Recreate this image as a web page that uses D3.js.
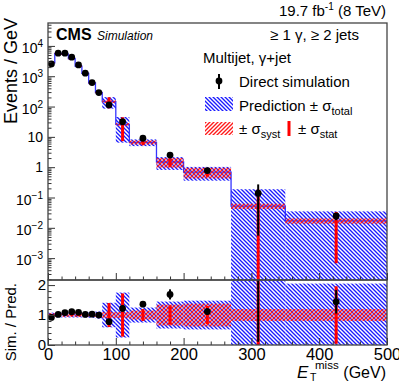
<!DOCTYPE html>
<html>
<head>
<meta charset="utf-8">
<script src="https://cdn.jsdelivr.net/npm/d3@7"></script>
<style>
body { margin: 0; background: #fff; }
svg { display: block; font-family: "Liberation Sans", Arial, Helvetica, sans-serif; }
</style>
</head>
<body>
<div id="chart"></div>
<script>
// MET bins (GeV)
var binEdges = [0, 10, 20, 30, 40, 50, 60, 70, 80, 100, 120, 160, 200, 270, 350, 500];
// prediction (events / GeV)
var predValues = [2770, 5630, 5310, 3820, 2165, 1235, 598, 288, 145, 25.8, 6.6, 1.48, 0.69, 0.052, 0.017];
// direct simulation (events / GeV)
var simValues = [2550, 5740, 5740, 4240, 2360, 1260, 616, 288, 113, 31.5, 9.0, 2.5, 0.77, 0.138, 0.0245];
var simErrRel = [0.01, 0.01, 0.01, 0.01, 0.01, 0.01, 0.02, 0.03, 0.05, 0.08, 0.06, 0.1, 0.1, 0.96, 0.27];
// relative uncertainties on the prediction
var statRel = [0.03, 0.03, 0.03, 0.03, 0.04, 0.04, 0.06, 0.1, 0.4, 0.72, 0.2, 0.32, 0.3, 2.5, 0.96];
var systRel = [0.06, 0.06, 0.06, 0.06, 0.06, 0.06, 0.06, 0.06, 0.1, 0.1, 0.15, 0.35, 0.38, 0.2, 0.2];
var totalRel = [0.08, 0.08, 0.08, 0.08, 0.08, 0.08, 0.09, 0.12, 0.41, 0.75, 0.25, 0.45, 0.48, 2.6, 1.05];

var xTicks = [0, 100, 200, 300, 400, 500];
var yTickExp = [-3, -2, -1, 0, 1, 2, 3, 4];
var ratioTicks = [0, 1, 2];

var svgWidth = 399;
var svgHeight = 383;
var left = 48, right = 387;
var mainTop = 23, mainBottom = 280, ratioBottom = 345;
var yMin = 1.9e-4, yMax = 5.7e4;

var svg = d3.select("#chart")
    .append("svg")
    .attr("width", svgWidth)
    .attr("height", svgHeight);

var x = d3.scaleLinear().domain([0, 500]).range([left, right]);
var yMain = d3.scaleLog().domain([yMin, yMax]).range([mainBottom, mainTop]);
var yRatio = d3.scaleLinear().domain([0, 2.17]).range([ratioBottom, mainBottom]);

function yLog(v) {
    return v > yMin ? yMain(v) : mainBottom + 10;
}

var bins = predValues.map(function (p, i) {
    return {
        lo: binEdges[i], hi: binEdges[i + 1], mid: (binEdges[i] + binEdges[i + 1]) / 2,
        pred: p, sim: simValues[i], simErr: simErrRel[i],
        stat: statRel[i], syst: systRel[i], tot: totalRel[i],
        ratio: simValues[i] / p
    };
});

// hatch patterns
var defs = svg.append("defs");
function hatch(id, color, d) {
    defs.append("pattern")
        .attr("id", id)
        .attr("patternUnits", "userSpaceOnUse")
        .attr("width", 4)
        .attr("height", 4)
        .append("path")
        .attr("d", d)
        .attr("stroke", color)
        .attr("stroke-width", 1.35)
        .attr("fill", "none");
}
hatch("hatchBlue", "#1a1aff", "M-1,-1L5,5M-1,3L1,5M3,-1L5,1");
hatch("hatchRed", "#ff1a1a", "M-1,5L5,-1M-1,1L1,-1M3,5L5,3");

defs.append("clipPath").attr("id", "clipMain").append("rect")
    .attr("x", left).attr("y", mainTop).attr("width", right - left).attr("height", mainBottom - mainTop);
defs.append("clipPath").attr("id", "clipRatio").append("rect")
    .attr("x", left).attr("y", mainBottom).attr("width", right - left).attr("height", ratioBottom - mainBottom);

// ---------- main panel ----------
var mainG = svg.append("g").attr("clip-path", "url(#clipMain)");

var stepPts = bins.map(d => [d.lo, d.pred]).concat([[500, predValues[predValues.length - 1]]]);
mainG.append("path")
    .attr("d", d3.line().x(d => x(d[0])).y(d => yMain(d[1])).curve(d3.curveStepAfter)(stepPts))
    .attr("fill", "none")
    .attr("stroke", "#3535ff")
    .attr("stroke-width", 1.3);

mainG.selectAll(null).data(bins).enter().append("rect")
    .attr("x", d => x(d.lo))
    .attr("width", d => x(d.hi) - x(d.lo))
    .attr("y", d => yMain(d.pred * (1 + d.tot)))
    .attr("height", d => yLog(d.pred * (1 - d.tot)) - yMain(d.pred * (1 + d.tot)))
    .attr("fill", "url(#hatchBlue)");

mainG.selectAll(null).data(bins).enter().append("rect")
    .attr("x", d => x(d.lo))
    .attr("width", d => x(d.hi) - x(d.lo))
    .attr("y", d => yMain(d.pred * (1 + d.syst)))
    .attr("height", d => yLog(d.pred * (1 - d.syst)) - yMain(d.pred * (1 + d.syst)))
    .attr("fill", "url(#hatchRed)");

mainG.selectAll(null).data(bins).enter().append("rect")
    .attr("x", d => x(d.mid) - 1.5)
    .attr("width", 3)
    .attr("y", d => yMain(d.pred * (1 + d.stat)))
    .attr("height", d => yLog(d.pred * (1 - d.stat)) - yMain(d.pred * (1 + d.stat)))
    .attr("fill", "#ff0000");

mainG.selectAll(null).data(bins).enter().append("line")
    .attr("x1", d => x(d.mid)).attr("x2", d => x(d.mid))
    .attr("y1", d => yMain(d.sim * (1 + d.simErr)))
    .attr("y2", d => yLog(d.sim * (1 - d.simErr)))
    .attr("stroke", "#000")
    .attr("stroke-width", 2);

mainG.selectAll(null).data(bins).enter().append("circle")
    .attr("cx", d => x(d.mid))
    .attr("cy", d => yMain(d.sim))
    .attr("r", 3.4)
    .attr("fill", "#000");

// ---------- ratio panel ----------
var ratioG = svg.append("g").attr("clip-path", "url(#clipRatio)");

ratioG.selectAll(null).data(bins).enter().append("rect")
    .attr("x", d => x(d.lo))
    .attr("width", d => x(d.hi) - x(d.lo))
    .attr("y", d => yRatio(1 + d.tot))
    .attr("height", d => yRatio(1 - d.tot) - yRatio(1 + d.tot))
    .attr("fill", "url(#hatchBlue)");

ratioG.selectAll(null).data(bins).enter().append("rect")
    .attr("x", d => x(d.lo))
    .attr("width", d => x(d.hi) - x(d.lo))
    .attr("y", d => yRatio(1 + d.syst))
    .attr("height", d => yRatio(1 - d.syst) - yRatio(1 + d.syst))
    .attr("fill", "url(#hatchRed)");

ratioG.selectAll(null).data(bins).enter().append("rect")
    .attr("x", d => x(d.mid) - 1.5)
    .attr("width", 3)
    .attr("y", d => yRatio(1 + d.stat))
    .attr("height", d => yRatio(1 - d.stat) - yRatio(1 + d.stat))
    .attr("fill", "#ff0000");

ratioG.selectAll(null).data(bins).enter().append("line")
    .attr("x1", d => x(d.mid)).attr("x2", d => x(d.mid))
    .attr("y1", d => yRatio(d.ratio * (1 + d.simErr)))
    .attr("y2", d => yRatio(d.ratio * (1 - d.simErr)))
    .attr("stroke", "#000")
    .attr("stroke-width", 2);

ratioG.selectAll(null).data(bins).enter().append("circle")
    .attr("cx", d => x(d.mid))
    .attr("cy", d => yRatio(d.ratio))
    .attr("r", 3.4)
    .attr("fill", "#000");

// ---------- axes ----------
var minorX = d3.range(0, 501, 20).filter(v => v % 100 !== 0);
var minorY = [];
yTickExp.concat([-4]).forEach(function (e) {
    for (var k = 2; k < 10; k++) {
        var v = k * Math.pow(10, e);
        if (v > yMin && v < yMax) minorY.push(v);
    }
});
var minorRatio = d3.range(0.2, 2.17, 0.2).filter(v => Math.abs(v - Math.round(v)) > 0.01);

function tickAxis(axis, transform) {
    var g = svg.append("g").attr("transform", transform).call(axis);
    g.select(".domain").remove();
    g.selectAll(".tick line").attr("stroke", "#333");
    return g;
}

// main x ticks (pointing up)
tickAxis(d3.axisBottom(x).tickValues(xTicks).tickSize(-7).tickFormat(""), `translate(0, ${mainBottom})`);
tickAxis(d3.axisBottom(x).tickValues(minorX).tickSize(-3.5).tickFormat(""), `translate(0, ${mainBottom})`);
// main y ticks
tickAxis(d3.axisLeft(yMain).tickValues(yTickExp.map(e => Math.pow(10, e))).tickSize(-7).tickFormat(""), `translate(${left}, 0)`);
tickAxis(d3.axisLeft(yMain).tickValues(minorY).tickSize(-3.5).tickFormat(""), `translate(${left}, 0)`);

// ratio x axis
var rx = tickAxis(d3.axisBottom(x).tickValues(xTicks).tickSize(-7).tickPadding(3).tickFormat(d3.format("d")), `translate(0, ${ratioBottom})`);
rx.selectAll("text").attr("font-size", 16.5).attr("fill", "#000");
tickAxis(d3.axisBottom(x).tickValues(minorX).tickSize(-3.5).tickFormat(""), `translate(0, ${ratioBottom})`);
// ratio y axis
var ry = tickAxis(d3.axisLeft(yRatio).tickValues(ratioTicks).tickSize(-7).tickPadding(2).tickFormat(d3.format("d")), `translate(${left}, 0)`);
ry.selectAll("text").attr("font-size", 15).attr("fill", "#000");
tickAxis(d3.axisLeft(yRatio).tickValues(minorRatio).tickSize(-3.5).tickFormat(""), `translate(${left}, 0)`);

// main y labels 10^n
yTickExp.forEach(function (e) {
    var ty = yMain(Math.pow(10, e));
    var t = svg.append("text").attr("x", 43).attr("text-anchor", "end").attr("font-size", 14);
    if (e === 0 || e === 1) {
        t.attr("y", ty + 5).text(e === 0 ? "1" : "10");
    } else {
        t.attr("y", ty + 7);
        t.append("tspan").text("10");
        t.append("tspan").attr("dy", -6).attr("font-size", 10).text(e < 0 ? "\u2212" + (-e) : e);
    }
});

// frames
svg.append("rect").attr("x", left).attr("y", mainTop).attr("width", right - left).attr("height", mainBottom - mainTop)
    .attr("fill", "none").attr("stroke", "#444").attr("stroke-width", 1.3);
svg.append("rect").attr("x", left).attr("y", mainBottom).attr("width", right - left).attr("height", ratioBottom - mainBottom)
    .attr("fill", "none").attr("stroke", "#444").attr("stroke-width", 1.3);

// axis titles
svg.append("text")
    .attr("transform", "translate(17, 18) rotate(-90)")
    .attr("text-anchor", "end")
    .attr("font-size", 18)
    .text("Events / GeV");

svg.append("text")
    .attr("transform", "translate(16, 283) rotate(-90)")
    .attr("text-anchor", "end")
    .attr("font-size", 15)
    .text("Sim. / Pred.");

svg.append("text").attr("x", 297).attr("y", 378).attr("font-size", 17).attr("font-style", "italic").text("E");
svg.append("text").attr("x", 315).attr("y", 369).attr("font-size", 11.5).text("miss");
svg.append("text").attr("x", 310).attr("y", 381).attr("font-size", 10.5).text("T");
svg.append("text").attr("x", 386).attr("y", 378).attr("font-size", 16).attr("text-anchor", "end").text("(GeV)");

// labels on top
svg.append("text").attr("x", 56).attr("y", 40).attr("font-size", 16).attr("font-weight", "bold").text("CMS");
svg.append("text").attr("x", 97).attr("y", 40).attr("font-size", 12).attr("font-style", "italic").text("Simulation");

var lumi = svg.append("text").attr("x", 386).attr("y", 16).attr("font-size", 15).attr("text-anchor", "end");
lumi.append("tspan").text("19.7 fb");
lumi.append("tspan").attr("dy", -6).attr("font-size", 10).text("-1");
lumi.append("tspan").attr("dy", 6).text(" (8 TeV)");

svg.append("text").attr("x", 359).attr("y", 40).attr("font-size", 15).attr("text-anchor", "end").text("\u2265 1 \u03b3, \u2265 2 jets");
svg.append("text").attr("x", 203).attr("y", 63).attr("font-size", 15).text("Multijet, \u03b3+jet");

// legend
svg.append("line").attr("x1", 219).attr("x2", 219).attr("y1", 74).attr("y2", 89).attr("stroke", "#000").attr("stroke-width", 2);
svg.append("circle").attr("cx", 219).attr("cy", 81).attr("r", 3.4).attr("fill", "#000");
svg.append("text").attr("x", 239).attr("y", 87).attr("font-size", 15).text("Direct simulation");

svg.append("rect").attr("x", 205).attr("y", 97).attr("width", 28).attr("height", 14).attr("fill", "url(#hatchBlue)");
var lp = svg.append("text").attr("x", 239).attr("y", 111).attr("font-size", 15);
lp.append("tspan").text("Prediction \u00b1 \u03c3");
lp.append("tspan").attr("dy", 4).attr("font-size", 11).text("total");

svg.append("rect").attr("x", 205).attr("y", 122).attr("width", 28).attr("height", 13).attr("fill", "url(#hatchRed)");
var ls = svg.append("text").attr("x", 239).attr("y", 134).attr("font-size", 15);
ls.append("tspan").text("\u00b1 \u03c3");
ls.append("tspan").attr("dy", 4).attr("font-size", 11).text("syst");
svg.append("rect").attr("x", 287.5).attr("y", 121).attr("width", 3).attr("height", 15).attr("fill", "#ff0000");
var lt = svg.append("text").attr("x", 298).attr("y", 134).attr("font-size", 15);
lt.append("tspan").text("\u00b1 \u03c3");
lt.append("tspan").attr("dy", 4).attr("font-size", 11).text("stat");
</script>
</body>
</html>
